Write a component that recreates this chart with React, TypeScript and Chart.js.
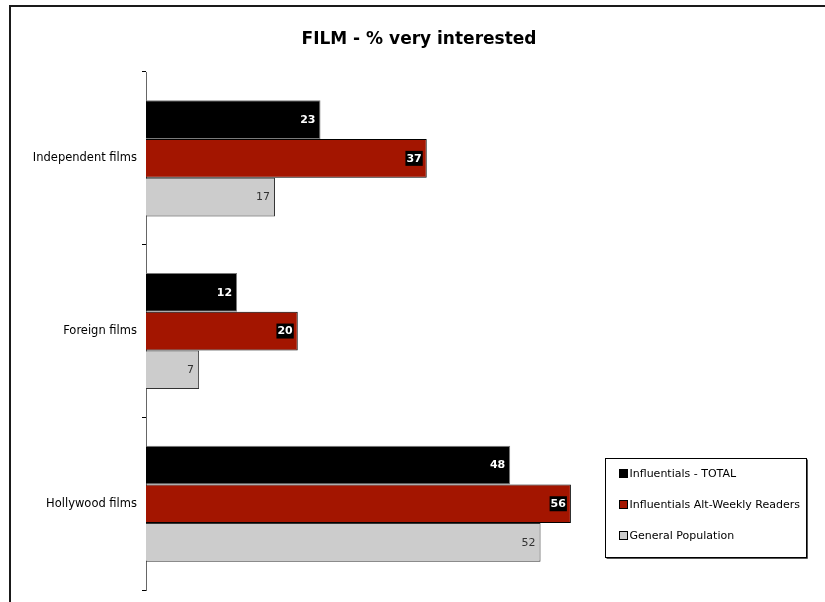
import React, { useEffect, useRef } from "react";
import { Chart, registerables } from "chart.js";

Chart.register(...registerables);

const categories = ["Independent films", "Foreign films", "Hollywood films"];
const seriesNames = ["Influentials - TOTAL", "Influentials Alt-Weekly Readers", "General Population"];
const influentialsTotal = [23, 12, 48];
const altWeeklyReaders = [37, 20, 56];
const generalPopulation = [17, 7, 52];
const titleText = "FILM - % very interested";

const FONT = "'DejaVu Sans', Verdana, sans-serif";
const fills = ["#000000", "#A31500", "#CCCCCC"];
const borders = ["#7a7a7a", "#000000", "#333333"];

const labelPlugin = {
  id: "customLabels",
  afterDraw(chart: any) {
    const ctx = chart.ctx;
    ctx.save();
    // data labels
    chart.data.datasets.forEach((ds: any, di: number) => {
      const meta = chart.getDatasetMeta(di);
      meta.data.forEach((bar: any, i: number) => {
        const v = ds.data[i];
        const txt = String(v);
        const xr = bar.x - 5;
        const y = bar.y;
        ctx.textBaseline = "middle";
        ctx.textAlign = "right";
        if (di === 0) {
          ctx.font = `bold 11px ${FONT}`;
          ctx.fillStyle = "#ffffff";
          ctx.fillText(txt, xr, y + 0.5);
        } else if (di === 1) {
          ctx.font = `bold 11px ${FONT}`;
          const w = ctx.measureText(txt).width;
          ctx.fillStyle = "#000000";
          ctx.fillRect(xr - w - 1, y - 7.5, w + 2, 15);
          ctx.fillStyle = "#ffffff";
          ctx.fillText(txt, xr, y + 0.5);
        } else {
          ctx.font = `11px ${FONT}`;
          ctx.fillStyle = "#333333";
          ctx.fillText(txt, xr, y + 0.5);
        }
      });
    });
    // title
    ctx.font = `bold 17px ${FONT}`;
    ctx.fillStyle = "#000000";
    ctx.textAlign = "center";
    ctx.textBaseline = "alphabetic";
    ctx.fillText(titleText, 419, 44);
    // legend
    const lx = 605.5, ly = 458.5, lw = 201, lh = 99;
    ctx.fillStyle = "#ffffff";
    ctx.fillRect(lx, ly, lw, lh);
    ctx.strokeStyle = "#000000";
    ctx.lineWidth = 1;
    ctx.strokeRect(lx, ly, lw, lh);
    ctx.fillStyle = "#555555";
    ctx.fillRect(lx + 1, ly + lh + 0.5, lw, 1);
    ctx.fillRect(lx + lw + 0.5, ly + 1, 1, lh);
    const rows = [474, 505, 536];
    ctx.font = `11px ${FONT}`;
    ctx.textAlign = "left";
    ctx.textBaseline = "middle";
    seriesNames.forEach((name, i) => {
      const ry = rows[i];
      ctx.fillStyle = fills[i];
      ctx.fillRect(619.5, ry - 4.5, 8, 8);
      ctx.strokeStyle = "#000000";
      ctx.strokeRect(619.5, ry - 4.5, 8, 8);
      ctx.fillStyle = "#000000";
      ctx.fillText(name, 629.5, ry);
    });
    ctx.restore();
  },
};

export default function App() {
  const ref = useRef<HTMLCanvasElement>(null);
  useEffect(() => {
    if (!ref.current) return;
    const data = [influentialsTotal, altWeeklyReaders, generalPopulation];
    const chart = new Chart(ref.current, {
      type: "bar",
      data: {
        labels: categories,
        datasets: seriesNames.map((name, i) => ({
          label: name,
          data: data[i],
          backgroundColor: fills[i],
          borderColor: borders[i],
          borderWidth: 1,
          barPercentage: 1.0,
          categoryPercentage: 0.672,
        })),
      },
      options: {
        indexAxis: "y",
        responsive: false,
        animation: false,
        maintainAspectRatio: false,
        layout: { padding: { top: 72, bottom: 8, left: 0, right: 72 } },
        plugins: { legend: { display: false }, title: { display: false }, tooltip: { enabled: false } },
        scales: {
          x: {
            display: false,
            min: 0,
            max: 80,
          },
          y: {
            afterFit(scale: any) {
              scale.width = 146;
            },
            grid: {
              drawOnChartArea: false,
              drawTicks: true,
              tickLength: 4,
              color: "#000000",
              offset: true,
            },
            border: { display: true, color: "#666666", width: 1 },
            ticks: {
              color: "#000000",
              font: { family: FONT, size: 11.5 },
              padding: 5,
            },
          },
        },
      },
      plugins: [labelPlugin],
    });
    return () => chart.destroy();
  }, []);
  return (
    <div>
      <div
        style={{
          position: "fixed",
          left: 9,
          top: 5,
          width: 900,
          height: 700,
          border: "2px solid #1a1a1a",
          boxSizing: "border-box",
        }}
      />
      <canvas
        ref={ref}
        width={825}
        height={602}
        style={{ position: "fixed", left: 0, top: 0, width: 825, height: 602 }}
      />
    </div>
  );
}
